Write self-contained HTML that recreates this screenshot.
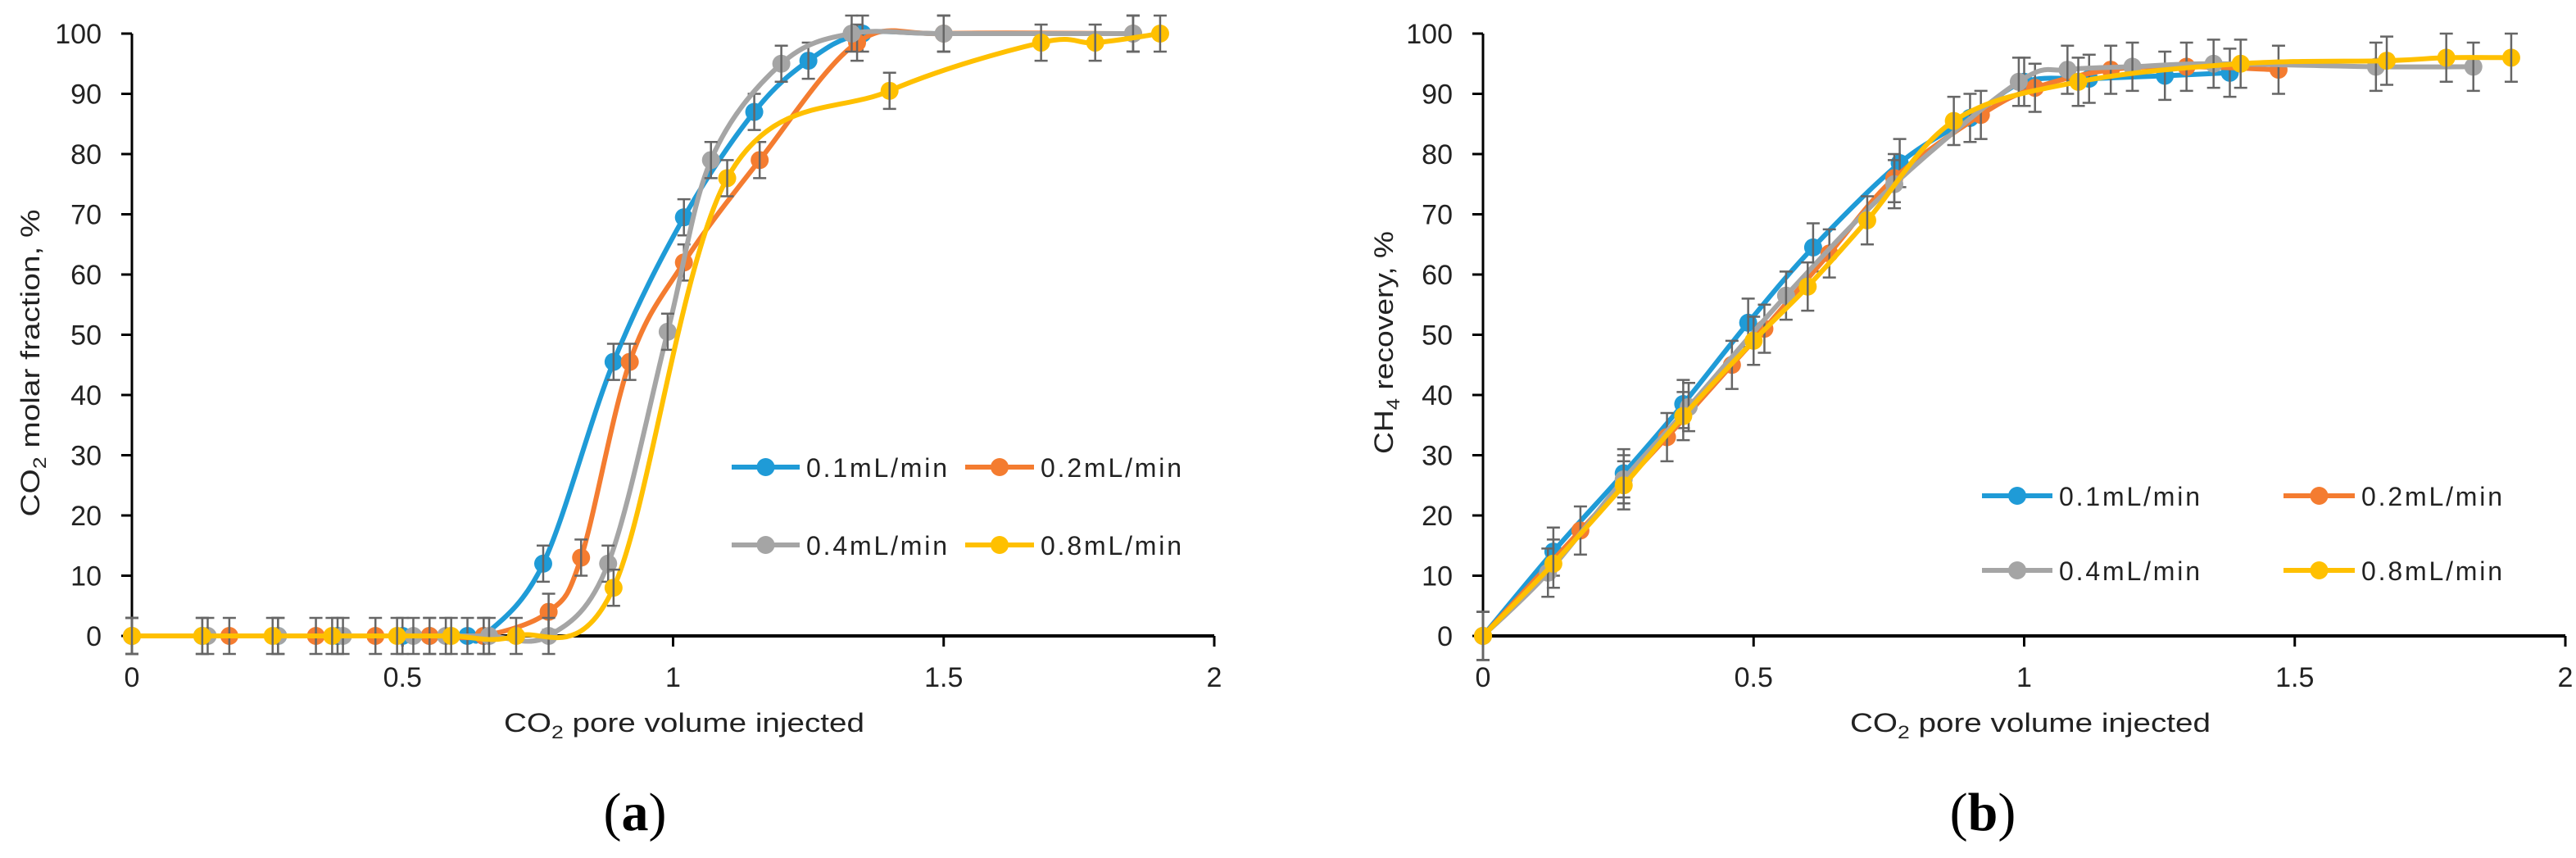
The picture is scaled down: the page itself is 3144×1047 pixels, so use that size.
<!DOCTYPE html>
<html><head><meta charset="utf-8"><style>
html,body{margin:0;padding:0;background:#fff;}
svg{display:block;font-family:"Liberation Sans",sans-serif;}
</style></head><body>
<svg id="fig" width="3144" height="1047" viewBox="0 0 3144 1047" xmlns="http://www.w3.org/2000/svg"></svg>
<script>
const seriesNames = ["0.1mL/min","0.2mL/min","0.4mL/min","0.8mL/min"];
const colors = ["#1f9bd7","#f47c30","#a5a5a5","#ffc000"];
const xTicks = [0,0.5,1,1.5,2];
const xTickLabels = ["0","0.5","1","1.5","2"];
const yTicks = [0,10,20,30,40,50,60,70,80,90,100];
const yTickLabels = ["0","10","20","30","40","50","60","70","80","90","100"];

// Panel (a): CO2 molar fraction
const aBlueX = [0,0.13,0.27,0.38,0.5,0.55,0.62,0.65,0.76,0.89,1.02,1.15,1.25,1.35,1.5,1.85];
const aBlueY = [0,0,0,0,0,0,0,0,12,45.5,69.5,87,95.5,100,100,100];
const aOrangeX = [0,0.18,0.34,0.45,0.55,0.65,0.77,0.83,0.92,1.02,1.16,1.34,1.5,1.85];
const aOrangeY = [0,0,0,0,0,0,4,13,45.5,62,79,98.5,100,100];
const aGrayX = [0,0.14,0.27,0.39,0.52,0.58,0.66,0.77,0.88,0.99,1.07,1.2,1.33,1.5,1.85];
const aGrayY = [0,0,0,0,0,0,0,0,12,50.5,79,95,100,100,100];
const aYellowX = [0,0.13,0.26,0.37,0.49,0.59,0.71,0.89,1.1,1.4,1.68,1.78,1.9];
const aYellowY = [0,0,0,0,0,0,0,8,76,90.5,98.5,98.5,100];

// Panel (b): CH4 recovery
const bBlueX = [0,0.13,0.26,0.37,0.49,0.61,0.77,0.9,1.0,1.12,1.26,1.38];
const bBlueY = [0,14,27,38.5,52,64.5,78.5,86,92,92.5,93,93.5];
const bOrangeX = [0,0.18,0.34,0.46,0.52,0.64,0.76,0.92,1.02,1.16,1.3,1.47];
const bOrangeY = [0,17.5,33,45,51,63.5,76,86.5,91,94,94.5,94];
const bGrayX = [0,0.12,0.26,0.38,0.56,0.76,0.99,1.08,1.2,1.35,1.65,1.83];
const bGrayY = [0,10.5,26,38,56.5,75,92,94,94.5,95,94.5,94.5];
const bYellowX = [0,0.13,0.26,0.37,0.5,0.6,0.71,0.87,1.1,1.4,1.67,1.78,1.9];
const bYellowY = [0,12,25,36.5,49,58,69,85.5,92,95,95.5,96,96];

const errA = 3;
const errB = 4;

const NS = "http://www.w3.org/2000/svg";
const svg = document.getElementById("fig");
function mk(tag, attrs, parent){
  const e = document.createElementNS(NS, tag);
  for (const k in attrs) e.setAttribute(k, attrs[k]);
  (parent||svg).appendChild(e);
  return e;
}
function splinePath(pts){
  if (pts.length < 2) return "";
  let d = "M" + pts[0][0] + "," + pts[0][1];
  for (let i = 0; i < pts.length-1; i++){
    const p0 = pts[Math.max(0,i-1)], p1 = pts[i], p2 = pts[i+1], p3 = pts[Math.min(pts.length-1,i+2)];
    const t = 1/6;
    const c1x = p1[0] + (p2[0]-p0[0])*t, c1y = p1[1] + (p2[1]-p0[1])*t;
    const c2x = p2[0] - (p3[0]-p1[0])*t, c2y = p2[1] - (p3[1]-p1[1])*t;
    d += " C" + c1x + "," + c1y + " " + c2x + "," + c2y + " " + p2[0] + "," + p2[1];
  }
  return d;
}

function panel(cfg){
  const g = mk("g", {});
  
  
  const X = v => cfg.x0 + (v/2)*(cfg.x1-cfg.x0);
  const Y = v => cfg.y0 - (v/100)*(cfg.y0-cfg.y1);
  const ya = mk("line", {x1:cfg.x0, y1:Y(0), x2:cfg.x0, y2:Y(100), stroke:"#000", "stroke-width":3}, g);
  
  
  yTicks.forEach((v,i)=>{
    const t = mk("line", {x1:cfg.x0-13, y1:Y(v), x2:cfg.x0, y2:Y(v), stroke:"#000", "stroke-width":3}, g);
    
    
    const l = mk("text", {x:cfg.x0-37, y:Y(v)+12, "text-anchor":"end", "font-size":34, fill:"#222"}, g);
    
    
    l.textContent = yTickLabels[i];
  });
  const xa = mk("line", {x1:cfg.x0, y1:Y(0), x2:cfg.x1, y2:Y(0), stroke:"#000", "stroke-width":4}, g);
  
  
  xTicks.forEach((v,i)=>{
    const t = mk("line", {x1:X(v), y1:Y(0), x2:X(v), y2:Y(0)+13, stroke:"#000", "stroke-width":3}, g);
    
    
    const l = mk("text", {x:X(v), y:Y(0)+62, "text-anchor":"middle", "font-size":34, fill:"#222"}, g);
    
    
    l.textContent = xTickLabels[i];
  });
  cfg.series.forEach((s,si)=>{
    const sg = mk("g", {}, g);
    
    
    const pts = s[0].map((xv,k)=>[X(xv), Y(s[1][k])]);
    const p = mk("path", {d:splinePath(pts), fill:"none", stroke:colors[si], "stroke-width":6, "stroke-linejoin":"round"}, sg);
    
    
    pts.forEach((pt,k)=>{
      const c = mk("circle", {cx:pt[0], cy:pt[1], r:11, fill:colors[si]}, sg);
      
      
    });
    pts.forEach((pt,k)=>{
      const v = s[1][k];
      const top = Y(Math.min(v+cfg.err,100+cfg.err)), bot = Y(v-cfg.err);
      const e = mk("path", {d:"M"+pt[0]+","+top+"V"+bot+"M"+(pt[0]-8)+","+top+"H"+(pt[0]+8)+"M"+(pt[0]-8)+","+bot+"H"+(pt[0]+8), stroke:"#666", "stroke-width":2.5, fill:"none"}, sg);
      
      
    });
  });
  cfg.legend.forEach((L,i)=>{
    const lg = mk("g", {}, g);
    
    
    const ln = mk("line", {x1:L[0], y1:L[2], x2:L[1], y2:L[2], stroke:colors[i], "stroke-width":6}, lg);
    
    
    const c = mk("circle", {cx:(L[0]+L[1])/2, cy:L[2], r:11, fill:colors[i]}, lg);
    
    
    const t = mk("text", {x:L[1]+8, y:L[2]+12, "font-size":32, fill:"#222", textLength:172, lengthAdjust:"spacing"}, lg);
    
    
    t.textContent = seriesNames[i];
  });
  const xt = mk("text", {x:cfg.xtX, y:893, "text-anchor":"middle", "font-size":32, fill:"#222", textLength:440, lengthAdjust:"spacingAndGlyphs"}, g);
  
  
  xt.innerHTML = 'CO<tspan font-size="22" dy="8">2</tspan><tspan dy="-8"> pore volume injected</tspan>';
  const yt = mk("text", {x:0, y:0, "text-anchor":"middle", "font-size":32, fill:"#222", transform:"translate("+cfg.ytX+","+cfg.ytY+") rotate(-90)", textLength:cfg.ytLen, lengthAdjust:"spacingAndGlyphs"}, g);
  
  
  yt.innerHTML = cfg.ytHtml;
  const pl = mk("text", {x:cfg.plX, y:1013, "text-anchor":"middle", "font-size":66, fill:"#000", "font-family":"Liberation Serif, serif"}, g);
  
  
  pl.innerHTML = '(<tspan font-weight="bold">' + cfg.letter + '</tspan>)';
}

panel({name:"chart-a", x0:161, x1:1482, y0:776, y1:41, err:errA,
  series:[[aBlueX,aBlueY],[aOrangeX,aOrangeY],[aGrayX,aGrayY],[aYellowX,aYellowY]],
  legend:[[893,976,570],[1178,1262,570],[893,976,665],[1178,1262,665]],
  xtX:835, ytX:48, ytY:443, ytLen:375, plX:775, letter:"a",
  ytHtml:'CO<tspan font-size="22" dy="8">2</tspan><tspan dy="-8"> molar fraction, %</tspan>'});
panel({name:"chart-b", x0:1810, x1:3131, y0:776, y1:41, err:errB,
  series:[[bBlueX,bBlueY],[bOrangeX,bOrangeY],[bGrayX,bGrayY],[bYellowX,bYellowY]],
  legend:[[2419,2505,605],[2787,2874,605],[2419,2505,696],[2787,2874,696]],
  xtX:2478, ytX:1700, ytY:418, ytLen:272, plX:2420, letter:"b",
  ytHtml:'CH<tspan font-size="22" dy="8">4</tspan><tspan dy="-8"> recovery, %</tspan>'});
</script>
</body></html>
